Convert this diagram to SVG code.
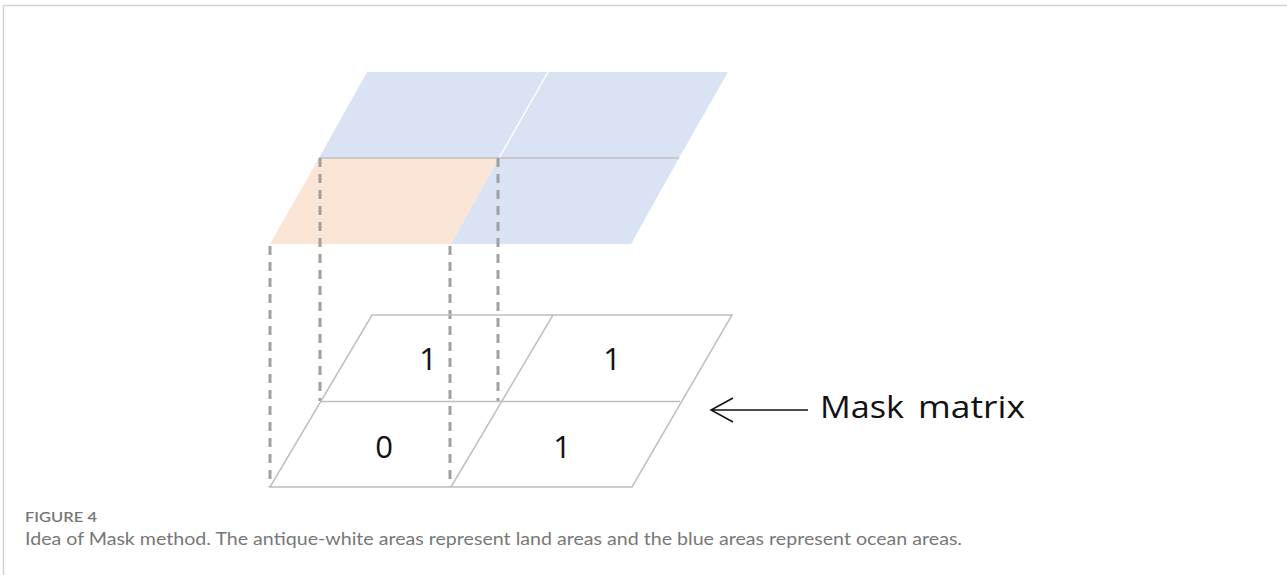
<svg xmlns="http://www.w3.org/2000/svg" width="1287" height="575" viewBox="0 0 1287 575">
  <style>
    .frame { stroke: #d4d4d4; stroke-width: 1.5; fill: none; }
    .ocean { fill: #dae3f3; }
    .land { fill: #fbe5d6; }
    .grid { stroke: #bfbfbf; stroke-width: 1.5; fill: none; }
    .split { stroke: #ffffff; stroke-width: 1.5; fill: none; }
    .proj { stroke: #a0a0a0; stroke-width: 3; stroke-dasharray: 9 7; fill: none; }
    .cell { font-family: "Open Sans", "DejaVu Sans", sans-serif; font-size: 31px; fill: #111; text-anchor: middle; }
    .label { font-family: "Open Sans", "DejaVu Sans", sans-serif; font-size: 31px; fill: #111; }
    .arrow { stroke: #111; stroke-width: 1.5; fill: none; }
    .fig { font-family: "Lato", "Open Sans", sans-serif; font-size: 14px; font-weight: 600; fill: #777; }
    .cap { font-family: "Lato", "Open Sans", sans-serif; font-size: 17px; fill: #777; }
  </style>

  <!-- page frame -->
  <path class="frame" d="M3.5 575 V5.5 H1287"/>

  <!-- upper layer: land/ocean grid -->
  <g id="upper-layer">
    <polygon class="ocean" points="367,72 548,72 499,158 319,158"/>
    <polygon class="ocean" points="548,72 728,72 679,158 499,158"/>
    <polygon class="land" points="319,158 499,158 451,244 270,244"/>
    <polygon class="ocean" points="499,158 679,158 631,244 451,244"/>
    <line class="split" x1="548" y1="72" x2="499" y2="158"/>
    <line class="grid" x1="319" y1="158" x2="679" y2="158"/>
  </g>

  <!-- projection lines between the layers -->
  <g id="connectors">
    <line class="proj" x1="320" y1="158" x2="320" y2="401"/>
    <line class="proj" x1="498" y1="158" x2="498" y2="401"/>
    <line class="proj" x1="270" y1="246" x2="270" y2="487"/>
    <line class="proj" x1="450" y1="246" x2="450" y2="487"/>
    <!-- pointer to the mask matrix -->
    <path class="arrow" d="M808 410 H711 M733 398 L711 410 L733 422"/>
  </g>

  <!-- lower layer: mask matrix -->
  <g id="mask-matrix">
    <polygon class="grid" points="372,315 732,315 632,487 270,487"/>
    <line class="grid" x1="321" y1="401.5" x2="680" y2="401.5"/>
    <line class="grid" x1="553" y1="315" x2="451" y2="487"/>
    <text class="cell" x="428" y="370">1</text>
    <text class="cell" x="612" y="370">1</text>
    <text class="cell" x="384" y="458">0</text>
    <text class="cell" x="562" y="458">1</text>
  </g>

  <g id="mask-label">
    <text class="label" y="418"><tspan x="820" textLength="84" lengthAdjust="spacingAndGlyphs">Mask</tspan> <tspan x="918" textLength="107" lengthAdjust="spacingAndGlyphs">matrix</tspan></text>
  </g>

  <!-- caption -->
  <g id="caption">
    <text class="fig" x="25" y="522" textLength="72" lengthAdjust="spacingAndGlyphs">FIGURE 4</text>
    <text class="cap" x="25" y="545" textLength="937" lengthAdjust="spacingAndGlyphs">Idea of Mask method. The antique-white areas represent land areas and the blue areas represent ocean areas.</text>
  </g>
</svg>
